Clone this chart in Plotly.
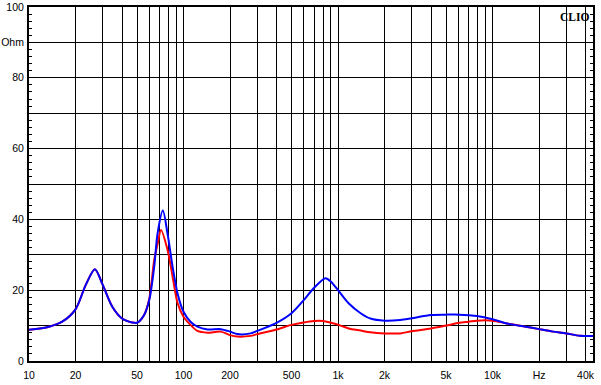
import plotly.graph_objects as go

# Blue curve (impedance, Ohm) vs frequency (Hz)
blue_f = [10, 13.5, 16.4, 20, 23.3, 26.7, 30, 34.6, 40, 46.5, 50, 55.6, 60, 64.6, 67.9,
          73.5, 78.8, 85, 91.5, 100, 111, 123, 143, 174, 200, 223, 272, 300, 400, 500,
          600, 700, 830, 900, 1000, 1170, 1400, 1620, 2000, 2530, 3000, 4000, 5000,
          6100, 7900, 10000, 12400, 16400, 20000, 24600, 30000, 36700, 45000]
blue_z = [8.8, 9.7, 11.1, 14.6, 21.5, 25.9, 21.5, 15.3, 12.0, 10.9, 10.8, 13.0, 17.2, 26.6, 36.0,
          42.5, 36.0, 26.6, 19.1, 13.9, 11.1, 9.7, 8.9, 9.0, 8.3, 7.6, 7.8, 8.5, 10.8, 13.5,
          17.2, 20.7, 23.4, 22.4, 20.0, 16.3, 13.5, 12.0, 11.4, 11.6, 12.1, 13.0, 13.1,
          13.1, 12.7, 11.8, 10.6, 9.7, 9.0, 8.3, 7.8, 7.1, 7.1]

# Red curve
red_f = [10, 13.5, 16.4, 20, 23.3, 26.7, 30, 34.6, 40, 46.5, 50, 55.6, 60, 64.6, 67.9,
         71.5, 78.8, 85, 91.5, 100, 111, 123, 143, 174, 200, 223, 272, 300, 400, 500,
         600, 700, 800, 900, 1040, 1170, 1400, 1620, 2000, 2530, 3000, 4000, 5000,
         6100, 7000, 7900, 10000, 12400, 16400, 20000, 24600, 30000, 36700, 45000]
red_z = [8.8, 9.7, 11.1, 14.6, 21.5, 25.9, 21.5, 15.3, 12.0, 10.9, 10.8, 13.0, 17.5, 28.5, 33.0,
         37.0, 31.4, 23.8, 16.4, 12.5, 10.2, 8.5, 8.0, 8.3, 7.3, 6.9, 7.1, 7.6, 8.9, 10.2,
         10.9, 11.3, 11.3, 10.8, 10.0, 9.2, 8.6, 8.1, 7.8, 7.8, 8.4, 9.2, 10.0,
         10.8, 11.1, 11.4, 11.4, 10.6, 9.7, 9.0, 8.3, 7.8, 7.1, 7.1]

# Axis ticks
x_grid = [m * d for d in (10, 100, 1000, 10000) for m in range(1, 10) if m * d <= 40000]
x_labels_map = {10: "10", 20: "20", 50: "50", 100: "100", 200: "200", 500: "500",
                1000: "1k", 2000: "2k", 5000: "5k", 10000: "10k", 20000: "Hz", 40000: "40k"}
x_text = [x_labels_map.get(v, "") for v in x_grid]

y_grid = list(range(0, 101, 10))
y_text = ["0", "", "20", "", "40", "", "60", "", "80", "Ohm", "100"]

font = dict(family="Liberation Sans, Arial, sans-serif", size=10.5, color="black")

fig = go.Figure()
fig.add_trace(go.Scatter(x=red_f, y=red_z, mode="lines",
                         line=dict(color="#ff0000", width=2, shape="spline", smoothing=0.8),
                         hoverinfo="skip"))
fig.add_trace(go.Scatter(x=blue_f, y=blue_z, mode="lines",
                         line=dict(color="#0000ff", width=2, shape="spline", smoothing=0.8),
                         hoverinfo="skip"))

fig.update_layout(
    width=601, height=385,
    margin=dict(l=29, r=8, t=7, b=24),
    paper_bgcolor="white", plot_bgcolor="white",
    showlegend=False,
    font=font,
    xaxis=dict(type="log", range=[1, 4.65], tickvals=x_grid, ticktext=x_text,
               showgrid=True, gridcolor="black", gridwidth=1, automargin=False,
               showline=True, linecolor="black", linewidth=2, mirror=True,
               ticks="", zeroline=False, tickfont=font, ticklabelstandoff=3),
    yaxis=dict(range=[0, 100], tickvals=y_grid, ticktext=y_text, automargin=False,
               showgrid=True, gridcolor="black", gridwidth=1,
               showline=True, linecolor="black", linewidth=2, mirror="ticks",
               ticks="inside", ticklen=3, tickcolor="black",
               minor=dict(dtick=2, ticks="inside", ticklen=3, tickcolor="black", showgrid=False),
               zeroline=False, tickfont=font, ticklabelstandoff=1),
    annotations=[dict(text="<b>CLIO</b>", xref="paper", yref="paper", x=0.997, y=0.993,
                      xanchor="right", yanchor="top", showarrow=False,
                      font=dict(family="Liberation Serif, Times New Roman, serif", size=11.5,
                                color="black"))],
)

fig.write_html("out.html", config={"displayModeBar": False},
               post_script="document.body.style.margin='0px';")
